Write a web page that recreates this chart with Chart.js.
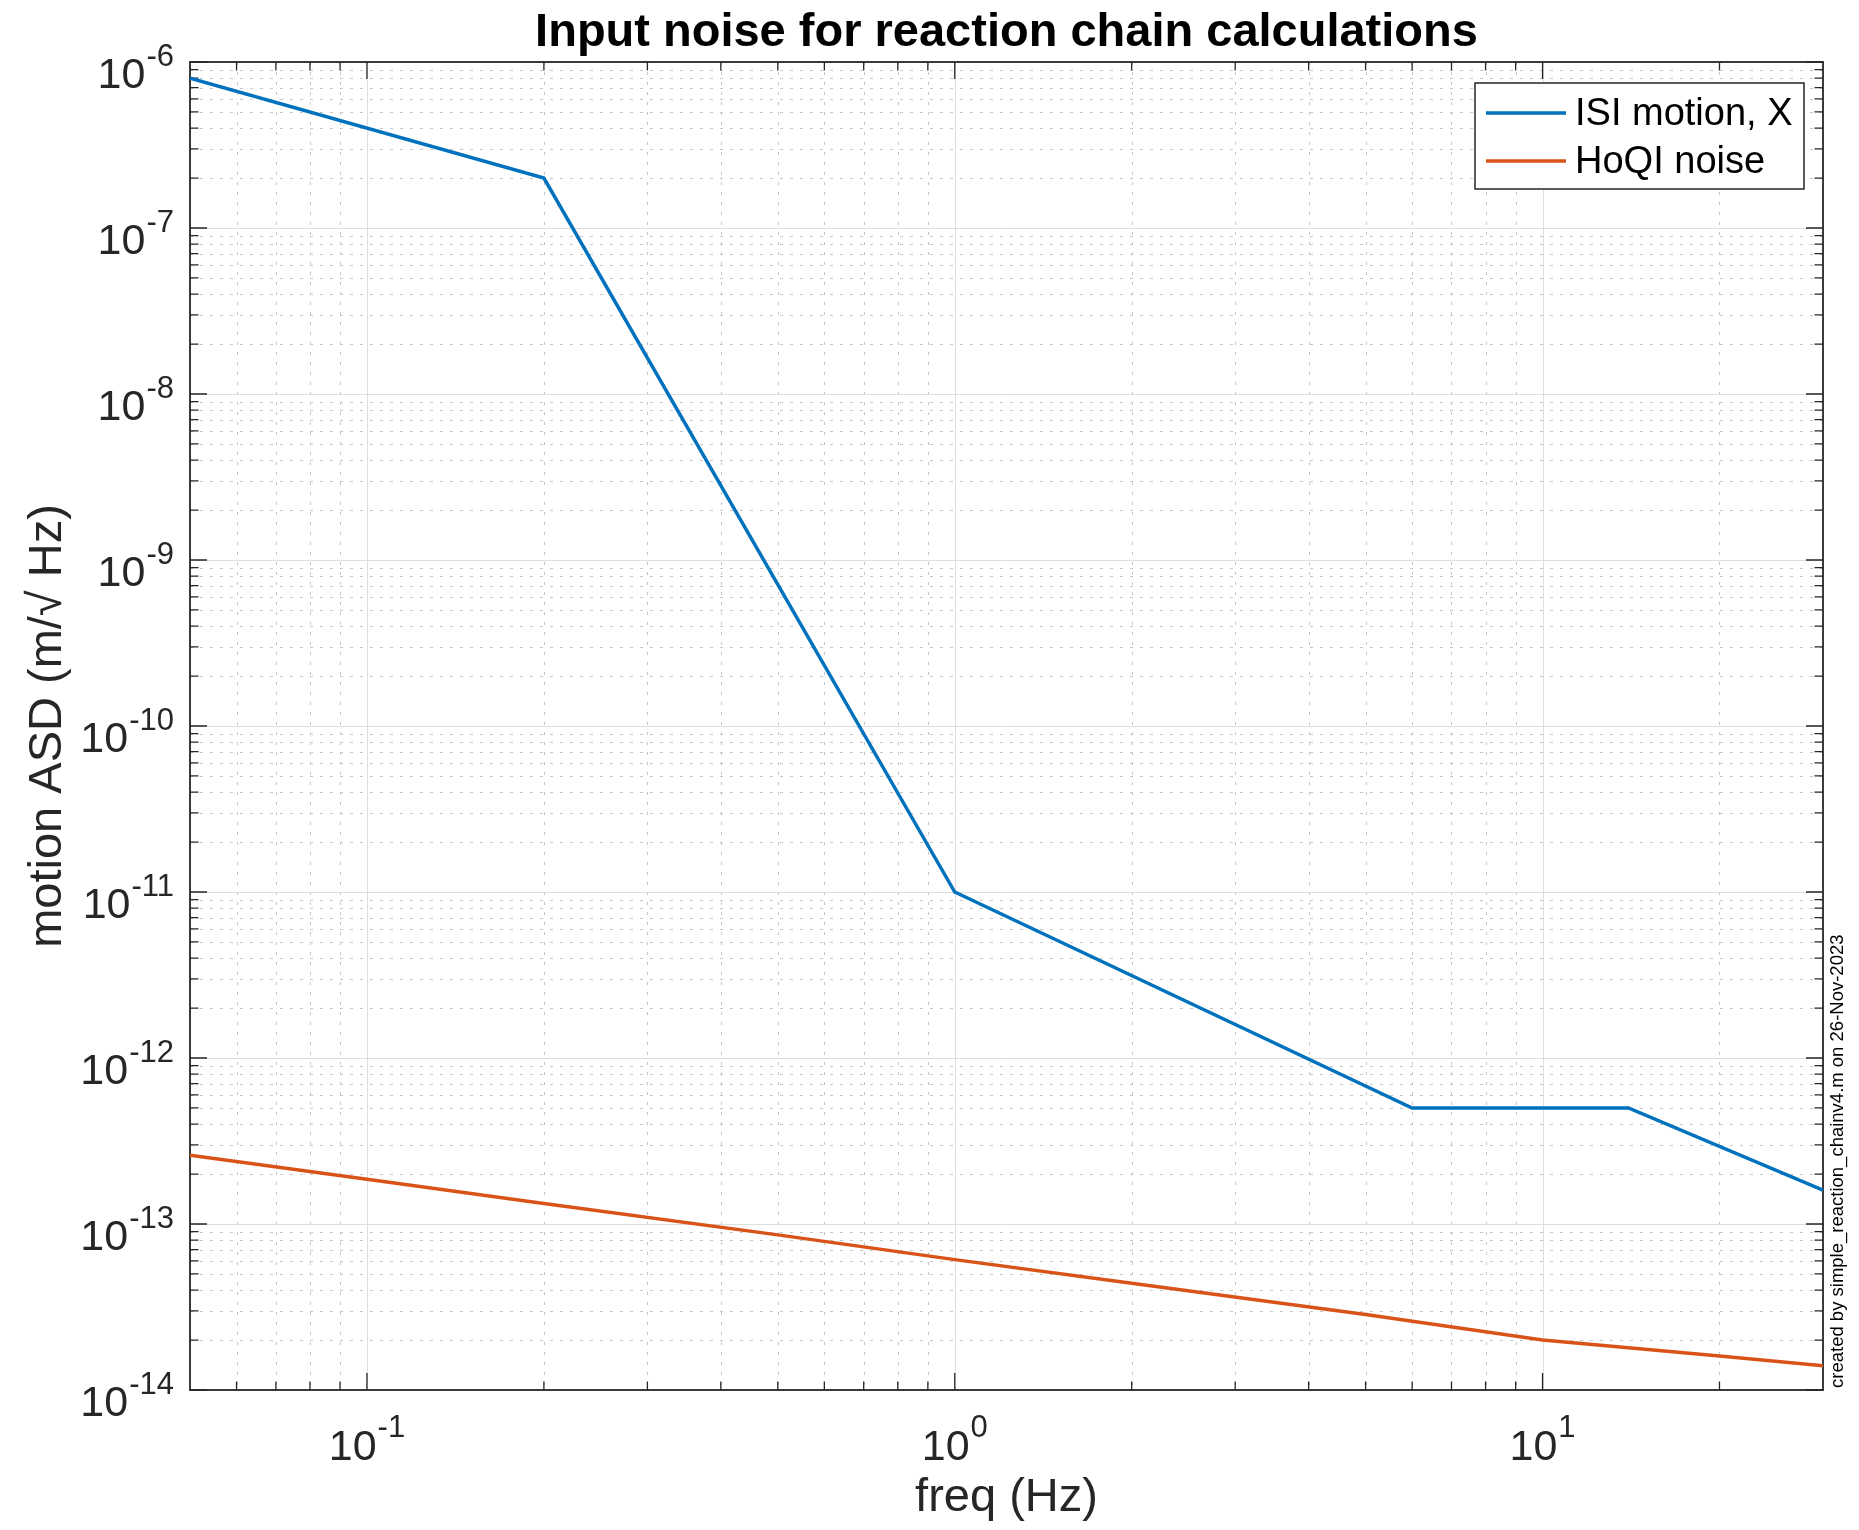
<!DOCTYPE html>
<html>
<head>
<meta charset="utf-8">
<script src="https://cdn.jsdelivr.net/npm/chart.js@4.4.1/dist/chart.umd.min.js"></script>
<style>
  html, body { margin: 0; padding: 0; background: #ffffff; }
  #wrap { width: 1859px; height: 1530px; }
</style>
</head>
<body>
<div id="wrap"><canvas id="c" width="1859" height="1530"></canvas></div>
<script>
// ---- data ----
const isiFreq  = [0.05, 0.2, 1, 6, 14, 30];
const isiASD   = [8.0e-7, 2.0e-7, 1.0e-11, 5.0e-13, 5.0e-13, 1.6e-13];
const hoqiFreq = [0.05, 0.1, 0.2, 0.5, 1, 2, 5, 10, 20, 30];
const hoqiASD  = [2.6e-13, 1.86e-13, 1.33e-13, 8.6e-14, 6.1e-14, 4.4e-14, 2.85e-14, 2.0e-14, 1.6e-14, 1.4e-14];
const xTickExps = [-1, 0, 1];
const yTickExps = [-14, -13, -12, -11, -10, -9, -8, -7, -6];
const seriesLabels = ['ISI motion, X', 'HoQI noise'];
const seriesColors = ['#0072BD', '#D95319'];
const titleText = 'Input noise for reaction chain calculations';
const xLabel = 'freq (Hz)';
const yLabel = 'motion ASD (m/\u221A Hz)';
const sideNote = 'created by simple_reaction_chainv4.m on 26-Nov-2023';

const FONT = '"Liberation Sans", Arial, Helvetica, sans-serif';
const AX = '#262626';

function toPts(xs, ys) { return xs.map((v, i) => ({x: v, y: ys[i]})); }

function decadeMinors(scale) {
  const out = [];
  const lo = Math.floor(Math.log10(scale.min)), hi = Math.ceil(Math.log10(scale.max));
  for (let e = lo; e <= hi; e++) {
    for (let m = 2; m <= 9; m++) {
      const v = m * Math.pow(10, e);
      if (v > scale.min * 1.0001 && v < scale.max * 0.9999) out.push(v);
    }
  }
  return out;
}
function decadeMajors(scale) {
  const out = [];
  const lo = Math.floor(Math.log10(scale.min)), hi = Math.ceil(Math.log10(scale.max));
  for (let e = lo; e <= hi; e++) {
    const v = Math.pow(10, e);
    if (v >= scale.min * 0.9999 && v <= scale.max * 1.0001) out.push(v);
  }
  return out;
}

const axesPlugin = {
  id: 'matlabAxes',
  beforeDatasetsDraw(chart) {
    const {ctx, chartArea: a, scales: {x, y}} = chart;
    ctx.save();
    ctx.beginPath();
    ctx.rect(a.left, a.top, a.right - a.left, a.bottom - a.top);
    ctx.clip();
    // minor grid (dotted)
    ctx.lineWidth = 1;
    ctx.strokeStyle = '#c6c6c6';
    ctx.setLineDash([3, 7]);
    decadeMinors(x).forEach(v => {
      const p = Math.round(x.getPixelForValue(v)) + 0.5;
      ctx.beginPath(); ctx.moveTo(p, a.top); ctx.lineTo(p, a.bottom); ctx.stroke();
    });
    decadeMinors(y).forEach(v => {
      const p = Math.round(y.getPixelForValue(v)) + 0.5;
      ctx.beginPath(); ctx.moveTo(a.left, p); ctx.lineTo(a.right, p); ctx.stroke();
    });
    // major grid (solid)
    ctx.setLineDash([]);
    ctx.strokeStyle = '#dedede';
    decadeMajors(x).forEach(v => {
      const p = Math.round(x.getPixelForValue(v)) + 0.5;
      ctx.beginPath(); ctx.moveTo(p, a.top); ctx.lineTo(p, a.bottom); ctx.stroke();
    });
    decadeMajors(y).forEach(v => {
      const p = Math.round(y.getPixelForValue(v)) + 0.5;
      ctx.beginPath(); ctx.moveTo(a.left, p); ctx.lineTo(a.right, p); ctx.stroke();
    });
    ctx.restore();

    // ticks (inside, all four sides)
    ctx.save();
    ctx.strokeStyle = AX;
    ctx.lineWidth = 1.3;
    const MAJ = 17, MIN = 8.5;
    const tickX = (v, len) => {
      const p = x.getPixelForValue(v);
      ctx.beginPath();
      ctx.moveTo(p, a.bottom); ctx.lineTo(p, a.bottom - len);
      ctx.moveTo(p, a.top); ctx.lineTo(p, a.top + len);
      ctx.stroke();
    };
    const tickY = (v, len) => {
      const p = y.getPixelForValue(v);
      ctx.beginPath();
      ctx.moveTo(a.left, p); ctx.lineTo(a.left + len, p);
      ctx.moveTo(a.right, p); ctx.lineTo(a.right - len, p);
      ctx.stroke();
    };
    decadeMinors(x).forEach(v => tickX(v, MIN));
    decadeMajors(x).forEach(v => tickX(v, MAJ));
    decadeMinors(y).forEach(v => tickY(v, MIN));
    decadeMajors(y).forEach(v => tickY(v, MAJ));
    // frame
    ctx.lineWidth = 1.8;
    ctx.strokeRect(a.left, a.top, a.right - a.left, a.bottom - a.top);
    ctx.restore();
  },
  afterDraw(chart) {
    const {ctx, chartArea: a, scales: {x, y}} = chart;
    ctx.save();
    ctx.fillStyle = AX;
    const baseFont = '43px ' + FONT, expFont = '31px ' + FONT;
    ctx.textBaseline = 'alphabetic';
    ctx.textAlign = 'left';
    // x tick labels 10^n
    xTickExps.forEach(e => {
      const px = x.getPixelForValue(Math.pow(10, e));
      ctx.font = baseFont; const wb = ctx.measureText('10').width;
      ctx.font = expFont; const we = ctx.measureText(String(e)).width;
      const start = px - (wb + 1 + we) / 2;
      ctx.font = baseFont; ctx.fillText('10', start, a.bottom + 70);
      ctx.font = expFont; ctx.fillText(String(e), start + wb + 1, a.bottom + 47);
    });
    // y tick labels 10^n
    yTickExps.forEach(e => {
      const py = y.getPixelForValue(Math.pow(10, e));
      ctx.font = baseFont; const wb = ctx.measureText('10').width;
      ctx.font = expFont; const we = ctx.measureText(String(e)).width;
      const right = a.left - 16;
      const start = right - we - 1 - wb;
      ctx.font = baseFont; ctx.fillText('10', start, py + 26);
      ctx.font = expFont; ctx.fillText(String(e), start + wb + 1, py + 4);
    });

    // legend
    const bx = 1475, by = 83, bw = 329, bh = 106;
    ctx.fillStyle = '#ffffff';
    ctx.fillRect(bx, by, bw, bh);
    ctx.strokeStyle = AX; ctx.lineWidth = 1.5;
    ctx.strokeRect(bx, by, bw, bh);
    const rows = [113, 161];
    chart.data.datasets.forEach((ds, i) => {
      ctx.strokeStyle = ds.borderColor; ctx.lineWidth = 3.5;
      ctx.beginPath(); ctx.moveTo(1486, rows[i]); ctx.lineTo(1566, rows[i]); ctx.stroke();
      ctx.fillStyle = '#000000';
      ctx.font = '38px ' + FONT;
      ctx.textBaseline = 'middle';
      ctx.fillText(ds.label, 1575, rows[i] + 2);
    });

    // side note
    ctx.translate(1838, 1388);
    ctx.rotate(-Math.PI / 2);
    ctx.font = '18.5px ' + FONT;
    ctx.fillStyle = '#000000';
    ctx.textAlign = 'left';
    ctx.textBaseline = 'middle';
    ctx.fillText(sideNote, 0, 0);
    ctx.restore();
  }
};

new Chart(document.getElementById('c'), {
  type: 'line',
  data: {
    datasets: [
      { label: seriesLabels[0], data: toPts(isiFreq, isiASD), borderColor: seriesColors[0],
        backgroundColor: seriesColors[0], borderWidth: 3.5, pointRadius: 0, tension: 0, fill: false, clip: 0 },
      { label: seriesLabels[1], data: toPts(hoqiFreq, hoqiASD), borderColor: seriesColors[1],
        backgroundColor: seriesColors[1], borderWidth: 3.5, pointRadius: 0, tension: 0, fill: false, clip: 0 }
    ]
  },
  options: {
    responsive: false,
    animation: false,
    devicePixelRatio: 1,
    layout: { padding: { left: 0, right: 36, top: 0, bottom: 0 } },
    plugins: {
      legend: { display: false },
      tooltip: { enabled: false },
      title: {
        display: true, text: titleText, fullSize: false, color: '#000000',
        font: { family: FONT, size: 47, weight: 'bold', lineHeight: 1.2 },
        padding: { top: 5, bottom: 0.6 }
      }
    },
    scales: {
      x: {
        type: 'logarithmic', min: 0.05, max: 30,
        grid: { display: false }, border: { display: false },
        ticks: { display: false },
        title: { display: true, text: xLabel, color: AX, font: { family: FONT, size: 47, lineHeight: 1.2 },
                 padding: { top: 0, bottom: 4 } },
        afterFit(s) { s.height = 140; }
      },
      y: {
        type: 'logarithmic', min: 1e-14, max: 1e-6,
        grid: { display: false }, border: { display: false },
        ticks: { display: false },
        title: { display: true, text: yLabel, color: AX, font: { family: FONT, size: 47, lineHeight: 1.2 },
                 padding: { top: 20, bottom: 0 } },
        afterFit(s) { s.width = 190; }
      }
    }
  },
  plugins: [axesPlugin]
});
</script>
</body>
</html>
